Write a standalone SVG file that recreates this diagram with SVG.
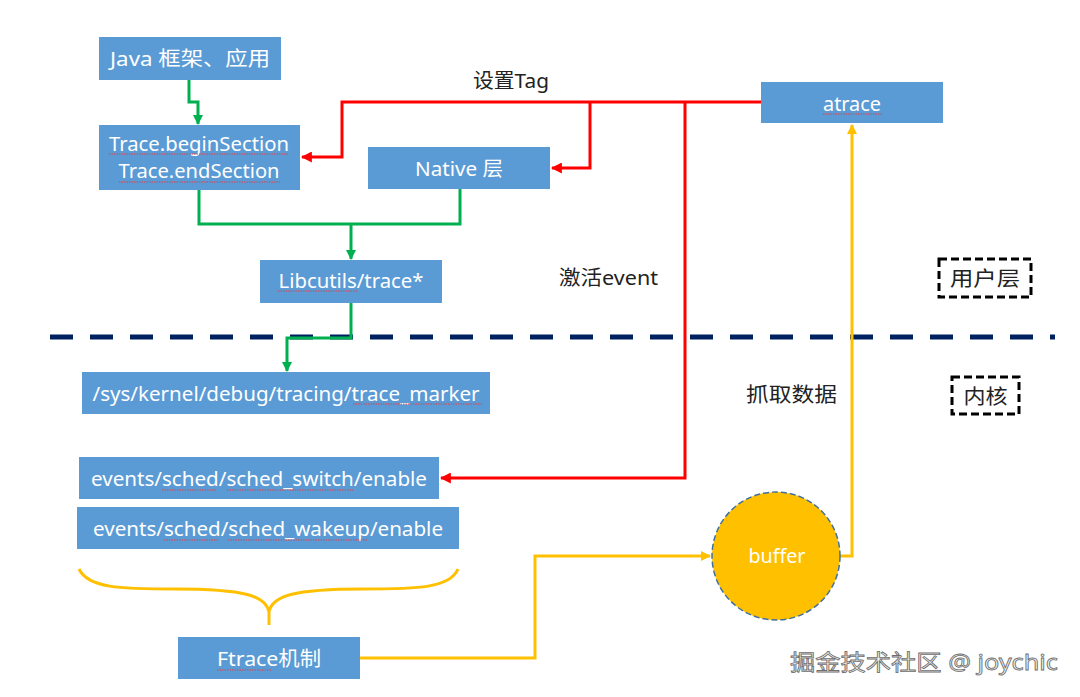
<svg xmlns="http://www.w3.org/2000/svg" width="1080" height="697" viewBox="0 0 1080 697">
<style>
.box{fill:#5b9bd5}
.bt{fill:#ffffff;font-family:"Noto Sans","Noto Sans CJK SC",sans-serif;font-size:20px;text-anchor:middle}
.lb{fill:#222222;font-family:"Noto Sans","Noto Sans CJK SC",sans-serif;font-size:20px}
.g{fill:none;stroke:#00b050;stroke-width:3}
.r{fill:none;stroke:#ff0000;stroke-width:3}
.y{fill:none;stroke:#ffc000;stroke-width:3}
.sp{fill:none;stroke:#e0404a;stroke-width:1.2;stroke-dasharray:1.5 1}
.db{fill:none;stroke:#000000;stroke-width:3;stroke-dasharray:8 4}
</style>
<defs>
<marker id="ag" viewBox="0 0 10 10" refX="9" refY="5" markerWidth="10" markerHeight="10" markerUnits="userSpaceOnUse" orient="auto"><path d="M0,0 L10,5 L0,10 z" fill="#00b050"/></marker>
<marker id="ar" viewBox="0 0 10 10" refX="9" refY="5" markerWidth="11" markerHeight="11" markerUnits="userSpaceOnUse" orient="auto"><path d="M0,0 L10,5 L0,10 z" fill="#ff0000"/></marker>
<marker id="ay" viewBox="0 0 10 10" refX="9" refY="5" markerWidth="10" markerHeight="10" markerUnits="userSpaceOnUse" orient="auto"><path d="M0,0 L10,5 L0,10 z" fill="#ffc000"/></marker>
</defs>
<rect width="1080" height="697" fill="#ffffff"/>

<line x1="50" y1="337" x2="1055" y2="337" stroke="#002060" stroke-width="5" stroke-dasharray="23 17"/>

<g id="connectors">
<path class="g" d="M189,80 V102 H198 V124" marker-end="url(#ag)"/>
<path class="g" d="M199,190 V224 H460 V189"/>
<path class="g" d="M351,224 V259" marker-end="url(#ag)"/>
<path class="g" d="M351,303 V338 H287 V371" marker-end="url(#ag)"/>
<path class="r" d="M761,102 H342 V157 H302" marker-end="url(#ar)"/>
<path class="r" d="M590,102 V168 H552" marker-end="url(#ar)"/>
<path class="r" d="M685,102 V478 H441" marker-end="url(#ar)"/>
<path class="y" d="M360,658 H535 V556 H710" marker-end="url(#ay)"/>
<path class="y" d="M840,556 H852 V125" marker-end="url(#ay)"/>
<path class="y" d="M79,569 C88,588 120,589 175,589 C245,589 266,596 269,612 L269,625 M269,612 C272,596 293,589 363,589 C418,589 450,588 458,569"/>
</g>

<g id="java">
<rect class="box" x="99" y="37" width="182" height="43"/>
<text class="bt" x="190" y="66" textLength="160" lengthAdjust="spacingAndGlyphs">Java 框架、应用</text>
</g>
<g id="trace">
<rect class="box" x="99" y="125" width="201" height="65"/>
<text class="bt" x="199" y="151" textLength="180" lengthAdjust="spacingAndGlyphs">Trace.beginSection</text>
<text class="bt" x="199" y="178" textLength="161" lengthAdjust="spacingAndGlyphs">Trace.endSection</text>
<path class="sp" d="M109,154 H289 M119,182 H280"/>
</g>
<g id="native">
<rect class="box" x="368" y="147" width="182" height="42"/>
<text class="bt" x="459" y="176" textLength="88" lengthAdjust="spacingAndGlyphs">Native 层</text>
</g>
<g id="libcutils">
<rect class="box" x="260" y="260" width="182" height="43"/>
<text class="bt" x="351" y="288" textLength="145" lengthAdjust="spacingAndGlyphs">Libcutils/trace*</text>
<path class="sp" d="M278,291 H357"/>
</g>
<g id="atrace">
<rect class="box" x="761" y="82" width="182" height="41"/>
<text class="bt" x="852" y="111" textLength="58" lengthAdjust="spacingAndGlyphs">atrace</text>
<path class="sp" d="M823,114 H882"/>
</g>
<g id="trace_marker">
<rect class="box" x="82" y="372" width="408" height="42"/>
<text class="bt" x="286" y="401" textLength="387" lengthAdjust="spacingAndGlyphs">/sys/kernel/debug/tracing/trace_marker</text>
<path class="sp" d="M353,404 H483"/>
</g>
<g id="sched_switch">
<rect class="box" x="79" y="457" width="360" height="42"/>
<text class="bt" x="259" y="486" textLength="336" lengthAdjust="spacingAndGlyphs">events/sched/sched_switch/enable</text>
<path class="sp" d="M162,490 H217 M227,490 H353"/>
</g>
<g id="sched_wakeup">
<rect class="box" x="77" y="507" width="382" height="42"/>
<text class="bt" x="268" y="536" textLength="350" lengthAdjust="spacingAndGlyphs">events/sched/sched_wakeup/enable</text>
<path class="sp" d="M164,540 H218 M228,540 H368"/>
</g>
<g id="ftrace">
<rect class="box" x="178" y="637" width="182" height="42"/>
<text class="bt" x="269" y="666" textLength="104" lengthAdjust="spacingAndGlyphs">Ftrace机制</text>
<path class="sp" d="M217,670 H272"/>
</g>
<g id="buffer">
<circle cx="776" cy="556" r="64" fill="#ffc000" stroke="#41719c" stroke-width="1.5" stroke-dasharray="6 3"/>
<text class="bt" x="777" y="563" textLength="57" lengthAdjust="spacingAndGlyphs">buffer</text>
</g>

<g id="labels">
<text class="lb" x="473" y="88" textLength="76" lengthAdjust="spacingAndGlyphs">设置Tag</text>
<text class="lb" x="559" y="285" font-size="21" textLength="99" lengthAdjust="spacingAndGlyphs">激活event</text>
<text class="lb" x="746" y="402" font-size="22" textLength="91" lengthAdjust="spacingAndGlyphs">抓取数据</text>
</g>
<g id="user_layer">
<rect class="db" x="939" y="259" width="92" height="38"/>
<text class="lb" x="985" y="286" font-size="22" text-anchor="middle" textLength="70" lengthAdjust="spacingAndGlyphs">用户层</text>
</g>
<g id="kernel_layer">
<rect class="db" x="952" y="377" width="67" height="37"/>
<text class="lb" x="985.5" y="404" font-size="22" text-anchor="middle" textLength="44" lengthAdjust="spacingAndGlyphs">内核</text>
</g>
<text x="790" y="670" font-family="'Noto Sans','Noto Sans CJK SC',sans-serif" font-size="22" fill="#f2f2f2" stroke="#6e6e6e" stroke-width="0.8" textLength="268" lengthAdjust="spacingAndGlyphs">掘金技术社区 @ joychic</text>
</svg>
